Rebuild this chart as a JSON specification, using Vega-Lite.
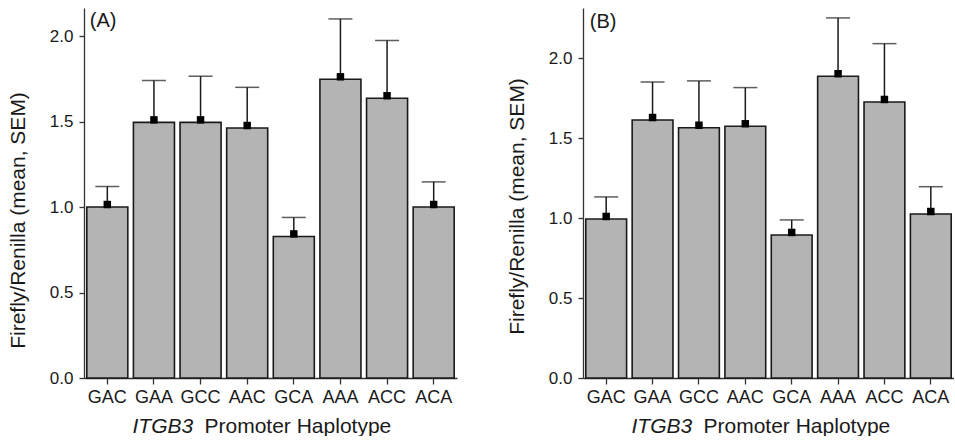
{
  "$schema": "https://vega.github.io/schema/vega-lite/v6.json",
  "padding": {"left": 7, "top": 8, "right": 0, "bottom": 0},
  "background": "white",
  "datasets": {
    "A": [
      {"hap": "GAC", "mean": 1.0, "err": 1.12},
      {"hap": "GAA", "mean": 1.495, "err": 1.74},
      {"hap": "GCC", "mean": 1.495, "err": 1.765},
      {"hap": "AAC", "mean": 1.462, "err": 1.70},
      {"hap": "GCA", "mean": 0.828, "err": 0.939},
      {"hap": "AAA", "mean": 1.747, "err": 2.10},
      {"hap": "ACC", "mean": 1.636, "err": 1.974},
      {"hap": "ACA", "mean": 1.0, "err": 1.147}
    ],
    "B": [
      {"hap": "GAC", "mean": 0.995, "err": 1.133},
      {"hap": "GAA", "mean": 1.614, "err": 1.852},
      {"hap": "GCC", "mean": 1.566, "err": 1.859},
      {"hap": "AAC", "mean": 1.575, "err": 1.817},
      {"hap": "GCA", "mean": 0.895, "err": 0.989},
      {"hap": "AAA", "mean": 1.888, "err": 2.253},
      {"hap": "ACC", "mean": 1.727, "err": 2.092},
      {"hap": "ACA", "mean": 1.026, "err": 1.197}
    ],
    "LA": [{"label": "(A)"}],
    "LB": [{"label": "(B)"}]
  },
  "spacing": 49,
  "hconcat": [
    {
      "width": 373,
      "height": 370,
      "data": {"name": "A"},
      "resolve": {"axis": {"x": "independent"}},
      "layer": [
        {
          "mark": {"type": "bar", "fill": "#b4b4b4", "stroke": "#1a1a1a", "strokeWidth": 1.6},
          "encoding": {
            "x": {"field": "hap", "type": "nominal", "sort": null,
              "scale": {"paddingInner": 0.12, "paddingOuter": 0.06},
              "axis": {"labelAngle": 0, "title": "Promoter Haplotype", "titleX": 120, "titleY": 54, "titleAlign": "left", "titleBaseline": "alphabetic", "titleAnchor": null, "labelFontSize": 18, "labelPadding": 4, "tickSize": 6}},
            "y": {"field": "mean", "type": "quantitative", "title": "Firefly/Renilla (mean, SEM)",
              "scale": {"domain": [0, 2.164], "nice": false, "zero": true},
              "axis": {"values": [0, 0.5, 1, 1.5, 2], "format": ".1f", "labelPadding": 6, "titlePadding": 21, "tickSize": 5, "titleY": 212, "titleAlign": "center"}}
          }
        },
        {
          "mark": {"type": "rule", "stroke": "#1a1a1a", "strokeWidth": 1.5},
          "encoding": {
            "x": {"field": "hap", "type": "nominal", "sort": null, "axis": null},
            "y": {"field": "mean", "type": "quantitative", "title": "Firefly/Renilla (mean, SEM)"},
            "y2": {"field": "err"}
          }
        },
        {
          "mark": {"type": "tick", "color": "#1a1a1a", "size": 24, "thickness": 1.5, "orient": "horizontal"},
          "encoding": {
            "x": {"field": "hap", "type": "nominal", "sort": null, "axis": null},
            "y": {"field": "err", "type": "quantitative", "title": "Firefly/Renilla (mean, SEM)"}
          }
        },
        {
          "mark": {"type": "square", "color": "#000000", "filled": true, "size": 56, "opacity": 1, "yOffset": -2.5},
          "encoding": {
            "x": {"field": "hap", "type": "nominal", "sort": null,
              "axis": {"title": "ITGB3", "titleFontStyle": "italic", "labels": false, "ticks": false, "domain": false, "orient": "bottom", "titleX": 48, "titleY": 54, "titleAlign": "left", "titleBaseline": "alphabetic", "titleAnchor": null}},
            "y": {"field": "mean", "type": "quantitative", "title": "Firefly/Renilla (mean, SEM)"}
          }
        },
        {
          "data": {"name": "LA"},
          "mark": {"type": "text", "align": "left", "baseline": "middle", "fontSize": 20, "color": "#1a1a1a", "dx": 3},
          "encoding": {
            "x": {"datum": "GAC", "type": "nominal", "bandPosition": 0, "axis": null},
            "y": {"datum": 2.09, "type": "quantitative", "title": "Firefly/Renilla (mean, SEM)"},
            "text": {"field": "label"}
          }
        }
      ]
    },
    {
      "width": 371,
      "height": 370,
      "data": {"name": "B"},
      "resolve": {"axis": {"x": "independent"}},
      "layer": [
        {
          "mark": {"type": "bar", "fill": "#b4b4b4", "stroke": "#1a1a1a", "strokeWidth": 1.6},
          "encoding": {
            "x": {"field": "hap", "type": "nominal", "sort": null,
              "scale": {"paddingInner": 0.12, "paddingOuter": 0.06},
              "axis": {"labelAngle": 0, "title": "Promoter Haplotype", "titleX": 120, "titleY": 54, "titleAlign": "left", "titleBaseline": "alphabetic", "titleAnchor": null, "labelFontSize": 18, "labelPadding": 4, "tickSize": 6}},
            "y": {"field": "mean", "type": "quantitative", "title": "Firefly/Renilla (mean, SEM)",
              "scale": {"domain": [0, 2.315], "nice": false, "zero": true},
              "axis": {"values": [0, 0.5, 1, 1.5, 2], "format": ".1f", "labelPadding": 6, "titlePadding": 21, "tickSize": 5, "titleY": 198, "titleAlign": "center"}}
          }
        },
        {
          "mark": {"type": "rule", "stroke": "#1a1a1a", "strokeWidth": 1.5},
          "encoding": {
            "x": {"field": "hap", "type": "nominal", "sort": null, "axis": null},
            "y": {"field": "mean", "type": "quantitative", "title": "Firefly/Renilla (mean, SEM)"},
            "y2": {"field": "err"}
          }
        },
        {
          "mark": {"type": "tick", "color": "#1a1a1a", "size": 24, "thickness": 1.5, "orient": "horizontal"},
          "encoding": {
            "x": {"field": "hap", "type": "nominal", "sort": null, "axis": null},
            "y": {"field": "err", "type": "quantitative", "title": "Firefly/Renilla (mean, SEM)"}
          }
        },
        {
          "mark": {"type": "square", "color": "#000000", "filled": true, "size": 56, "opacity": 1, "yOffset": -2.5},
          "encoding": {
            "x": {"field": "hap", "type": "nominal", "sort": null,
              "axis": {"title": "ITGB3", "titleFontStyle": "italic", "labels": false, "ticks": false, "domain": false, "orient": "bottom", "titleX": 48, "titleY": 54, "titleAlign": "left", "titleBaseline": "alphabetic", "titleAnchor": null}},
            "y": {"field": "mean", "type": "quantitative", "title": "Firefly/Renilla (mean, SEM)"}
          }
        },
        {
          "data": {"name": "LB"},
          "mark": {"type": "text", "align": "left", "baseline": "middle", "fontSize": 20, "color": "#1a1a1a", "dx": 4},
          "encoding": {
            "x": {"datum": "GAC", "type": "nominal", "bandPosition": 0, "axis": null},
            "y": {"datum": 2.23, "type": "quantitative", "title": "Firefly/Renilla (mean, SEM)"},
            "text": {"field": "label"}
          }
        }
      ]
    }
  ],
  "config": {
    "font": "Liberation Sans",
    "view": {"stroke": null},
    "axis": {
      "grid": false,
      "domainColor": "#333333",
      "tickColor": "#333333",
      "domainWidth": 1.3,
      "tickWidth": 1.3,
      "labelColor": "#1a1a1a",
      "titleColor": "#1a1a1a",
      "labelFontSize": 17,
      "titleFontSize": 21,
      "titleFontWeight": "normal",
      "labelFont": "Liberation Sans",
      "titleFont": "Liberation Sans"
    }
  }
}
